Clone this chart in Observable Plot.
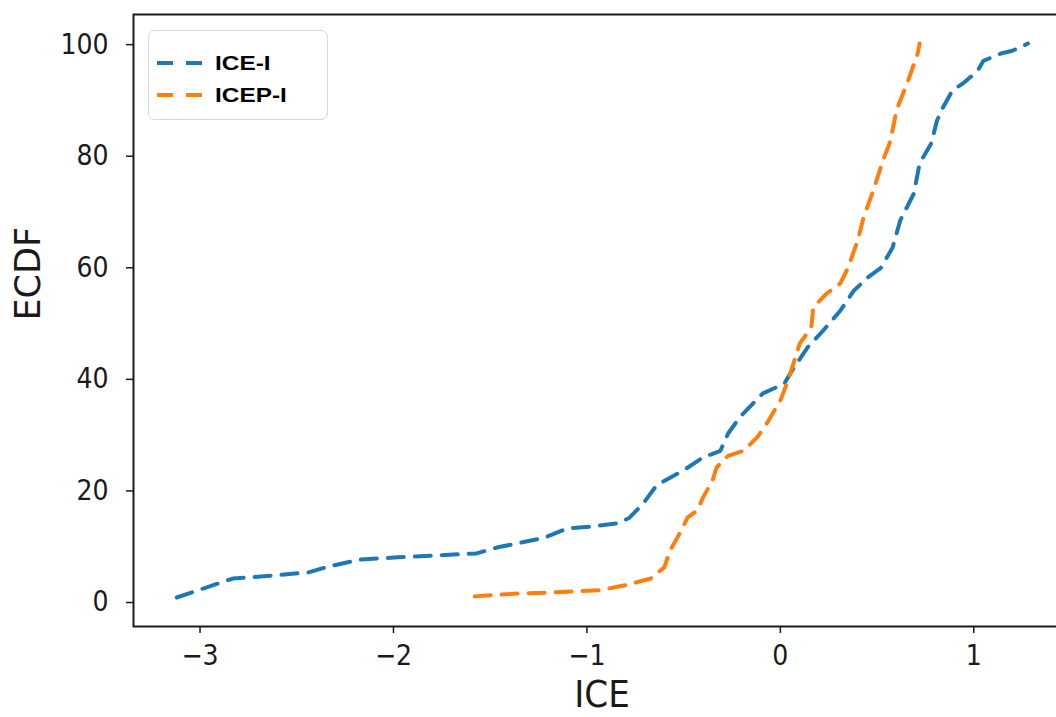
<!DOCTYPE html>
<html>
<head>
<meta charset="utf-8">
<script src="https://cdn.jsdelivr.net/npm/d3@7"></script>
<script src="https://cdn.jsdelivr.net/npm/@observablehq/plot@0.6"></script>
<style>
  html, body { margin: 0; padding: 0; background: #fff; overflow: hidden; width: 1056px; height: 717px; }
  #wrap { position: relative; width: 1056px; height: 717px; overflow: hidden; }
  #chart svg { max-width: none !important; display: block; }
  #legend { position: absolute; left: 148px; top: 30px; width: 180px; height: 90px; border: 1.5px solid #d6d6d6; border-radius: 7px; background: rgba(255,255,255,0.9); font-family: "Liberation Sans", Arial, sans-serif; font-weight: bold; font-size: 19.5px; color: #000; box-sizing: border-box; }
  .item { position: absolute; left: 7px; display: flex; align-items: center; height: 20px; }
  .item span { margin-left: 11px; display: inline-block; transform: scaleX(1.25); transform-origin: left center; }
</style>
</head>
<body>
<div id="wrap">
  <div id="chart"></div>
  <div id="legend"></div>
</div>
<script>
const seriesNames = ["ICE-I", "ICEP-I"];
const colors = ["#1f77b4", "#ff7f0e"];

const iceX = [-3.12, -2.95, -2.83, -2.67, -2.44, -2.33, -2.17, -1.98, -1.57, -1.46, -1.36, -1.22, -1.10, -0.98, -0.84, -0.78, -0.71, -0.64, -0.50, -0.40, -0.31, -0.27, -0.21, -0.09, 0.02, 0.05, 0.14, 0.22, 0.31, 0.38, 0.45, 0.52, 0.58, 0.62, 0.69, 0.72, 0.78, 0.81, 0.84, 0.89, 0.95, 1.02, 1.05, 1.14, 1.20, 1.28];
const iceY = [0.9, 2.9, 4.3, 4.7, 5.4, 6.5, 7.7, 8.1, 8.8, 9.9, 10.6, 11.6, 13.3, 13.6, 14.2, 15.2, 17.7, 21.0, 23.7, 26.0, 27.2, 30.3, 33.2, 37.5, 39.2, 41.0, 45.7, 48.7, 52.3, 55.9, 58.2, 60.0, 63.6, 68.5, 73.3, 78.7, 82.3, 86.4, 88.7, 91.8, 93.2, 95.3, 97.1, 98.4, 98.9, 100.2];

const icepX = [-1.58, -1.36, -1.19, -0.93, -0.79, -0.67, -0.60, -0.57, -0.52, -0.48, -0.43, -0.40, -0.35, -0.33, -0.27, -0.19, -0.12, -0.07, 0.00, 0.04, 0.10, 0.16, 0.17, 0.24, 0.31, 0.35, 0.40, 0.43, 0.48, 0.53, 0.57, 0.60, 0.66, 0.71, 0.72];
const icepY = [1.1, 1.6, 1.8, 2.2, 3.2, 4.3, 6.3, 9.3, 12.4, 15.2, 16.5, 18.8, 21.9, 24.2, 26.3, 27.2, 29.6, 32.1, 36.2, 39.8, 46.4, 49.3, 52.9, 55.4, 57.2, 60.0, 64.9, 69.0, 73.8, 79.2, 82.8, 88.2, 93.5, 98.4, 100.2];

const xTicks = [-3, -2, -1, 0, 1];
const yTicks = [0, 20, 40, 60, 80, 100];

const data = [
  ...iceX.map((x, i) => ({series: seriesNames[0], x, y: iceY[i]})),
  ...icepX.map((x, i) => ({series: seriesNames[1], x, y: icepY[i]}))
];

const fmt = d => (d < 0 ? "\u2212" : "") + Math.abs(d);
const tickFont = "'DejaVu Sans Condensed', 'DejaVu Sans', sans-serif";

const chart = Plot.plot({
  width: 1070,
  height: 717,
  marginLeft: 133,
  marginRight: 0,
  marginTop: 14,
  marginBottom: 91,
  style: {fontFamily: "'DejaVu Sans', sans-serif", background: "#fff", color: "#000"},
  x: {domain: [-3.344, 1.50], ticks: xTicks, label: null},
  y: {domain: [-4.3, 105.4], ticks: yTicks, label: null},
  color: {domain: seriesNames, range: colors},
  marks: [
    Plot.line(data, {x: "x", y: "y", z: "series", stroke: "series", strokeWidth: 4, strokeDasharray: "16,11", curve: "linear"}),
    Plot.frame({stroke: "#1a1a1a", strokeWidth: 2}),
    Plot.axisX({ticks: xTicks, tickFormat: fmt, tickSize: 7, tickPadding: 12, fontSize: 28, fontFamily: tickFont, label: null, stroke: "#1a1a1a", strokeWidth: 1.5, fill: "#1a1a1a"}),
    Plot.axisY({ticks: yTicks, tickFormat: fmt, tickSize: 7, tickPadding: 18, fontSize: 28, fontFamily: tickFont, label: null, stroke: "#1a1a1a", strokeWidth: 1.5, fill: "#1a1a1a"}),
    Plot.text(["ECDF"], {frameAnchor: "left", dx: -105, rotate: -90, fontSize: 35, fill: "#1a1a1a"}),
    Plot.text(["ICE"], {frameAnchor: "bottom", dy: 80, fontSize: 38, fontFamily: tickFont, fill: "#1a1a1a"})
  ]
});
document.getElementById("chart").appendChild(chart);

const legend = document.getElementById("legend");
seriesNames.forEach((name, i) => {
  const item = document.createElement("div");
  item.className = "item";
  item.style.top = (i === 0 ? 22 : 54) + "px";
  item.innerHTML = `<svg width="48" height="10"><line x1="1" y1="5" x2="47" y2="5" stroke="${colors[i]}" stroke-width="4" stroke-dasharray="16,13"/></svg><span>${name}</span>`;
  legend.appendChild(item);
});
</script>
</body>
</html>
